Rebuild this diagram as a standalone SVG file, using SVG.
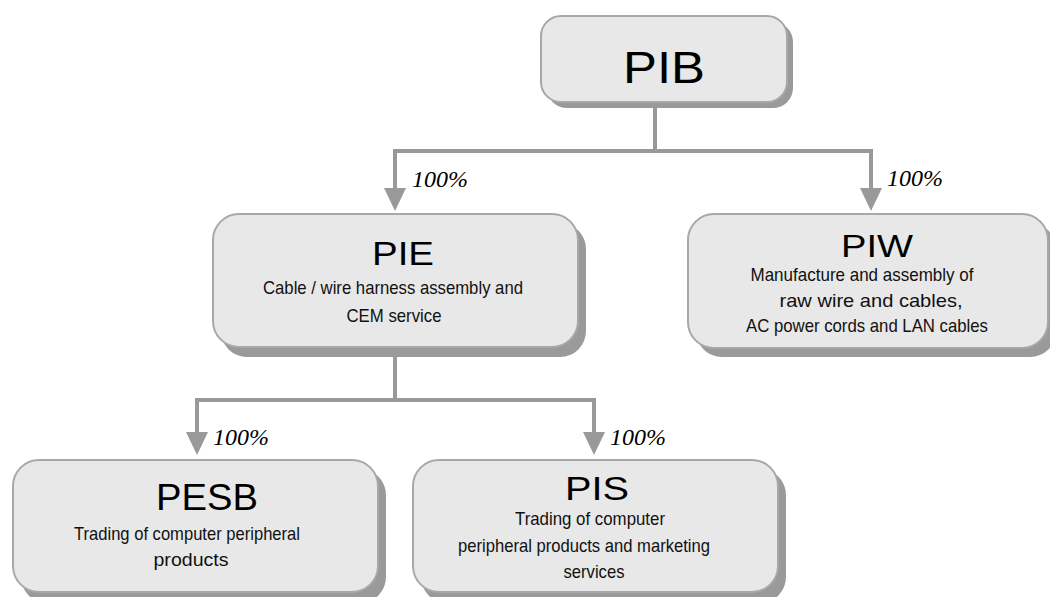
<svg xmlns="http://www.w3.org/2000/svg" width="1050" height="597" viewBox="0 0 1050 597">
<style>
.shadow{fill:#9a9a9a;}
.box{fill:#e8e8e8;stroke:#a8a8a8;stroke-width:2;}
.title{font-family:"Liberation Sans",Arial,sans-serif;fill:#000;text-anchor:middle;}
.desc{font-family:"Liberation Sans Narrow","Liberation Sans",Arial,sans-serif;font-size:18.5px;fill:#111;text-anchor:middle;}
.pct{font-family:"Liberation Serif","Times New Roman",serif;font-style:italic;font-size:24px;fill:#000;}
.conn{fill:none;stroke:#999;stroke-width:4;}
.head{fill:#999;}
</style>
<rect width="1050" height="597" fill="#fff"/>
<g id="connectors">
<path class="conn" d="M655,104 V151 M395,151 H871 M395,149 V190 M871,149 V190"/>
<polygon class="head" points="384,188 406,188 395,211"/>
<polygon class="head" points="860,188 882,188 871,211"/>
<path class="conn" d="M395,356 V400 M197,400 H594 M197,398 V434 M594,398 V434"/>
<polygon class="head" points="186,432 208,432 197,455"/>
<polygon class="head" points="583,432 605,432 594,455"/>
<text class="pct" x="412" y="187">100%</text>
<text class="pct" x="887" y="186">100%</text>
<text class="pct" x="213" y="445">100%</text>
<text class="pct" x="610" y="445">100%</text>
</g>
<g id="PIB">
<rect class="shadow" x="547" y="22" width="246" height="86" rx="20"/>
<rect class="box" x="541" y="16" width="246" height="86" rx="20"/>
<text class="title" x="664" y="83" font-size="45" textLength="82" lengthAdjust="spacingAndGlyphs">PIB</text>
</g>
<g id="PIE">
<rect class="shadow" x="221" y="223" width="365" height="134" rx="26"/>
<rect class="box" x="213" y="214" width="365" height="133" rx="26"/>
<text class="title" x="403" y="265" font-size="34" textLength="62" lengthAdjust="spacingAndGlyphs">PIE</text>
<text class="desc" x="393" y="294" textLength="260" lengthAdjust="spacingAndGlyphs">Cable / wire harness assembly and</text>
<text class="desc" x="394" y="322" textLength="95" lengthAdjust="spacingAndGlyphs">CEM service</text>
</g>
<g id="PIW">
<rect class="shadow" x="696" y="223" width="360" height="134" rx="26"/>
<rect class="box" x="688" y="214" width="360" height="134" rx="26"/>
<text class="title" x="877" y="257" font-size="31" textLength="72" lengthAdjust="spacingAndGlyphs">PIW</text>
<text class="desc" x="862" y="281" textLength="223" lengthAdjust="spacingAndGlyphs">Manufacture and assembly of</text>
<text class="desc" x="871" y="307" textLength="183" lengthAdjust="spacingAndGlyphs">raw wire and cables,</text>
<text class="desc" x="867" y="332" textLength="242" lengthAdjust="spacingAndGlyphs">AC power cords and LAN cables</text>
</g>
<g id="PESB">
<rect class="shadow" x="21" y="469" width="365" height="134" rx="26"/>
<rect class="box" x="13" y="460" width="365" height="132" rx="26"/>
<text class="title" x="207" y="510" font-size="36" textLength="102" lengthAdjust="spacingAndGlyphs">PESB</text>
<text class="desc" x="187" y="540" textLength="226" lengthAdjust="spacingAndGlyphs">Trading of computer peripheral</text>
<text class="desc" x="191" y="566" textLength="75" lengthAdjust="spacingAndGlyphs">products</text>
</g>
<g id="PIS">
<rect class="shadow" x="421" y="469" width="365" height="134" rx="26"/>
<rect class="box" x="413" y="460" width="365" height="132" rx="26"/>
<text class="title" x="597" y="500" font-size="34" textLength="64" lengthAdjust="spacingAndGlyphs">PIS</text>
<text class="desc" x="590" y="525" textLength="150" lengthAdjust="spacingAndGlyphs">Trading of computer</text>
<text class="desc" x="584" y="552" textLength="252" lengthAdjust="spacingAndGlyphs">peripheral products and marketing</text>
<text class="desc" x="594" y="578" textLength="61" lengthAdjust="spacingAndGlyphs">services</text>
</g>
</svg>
